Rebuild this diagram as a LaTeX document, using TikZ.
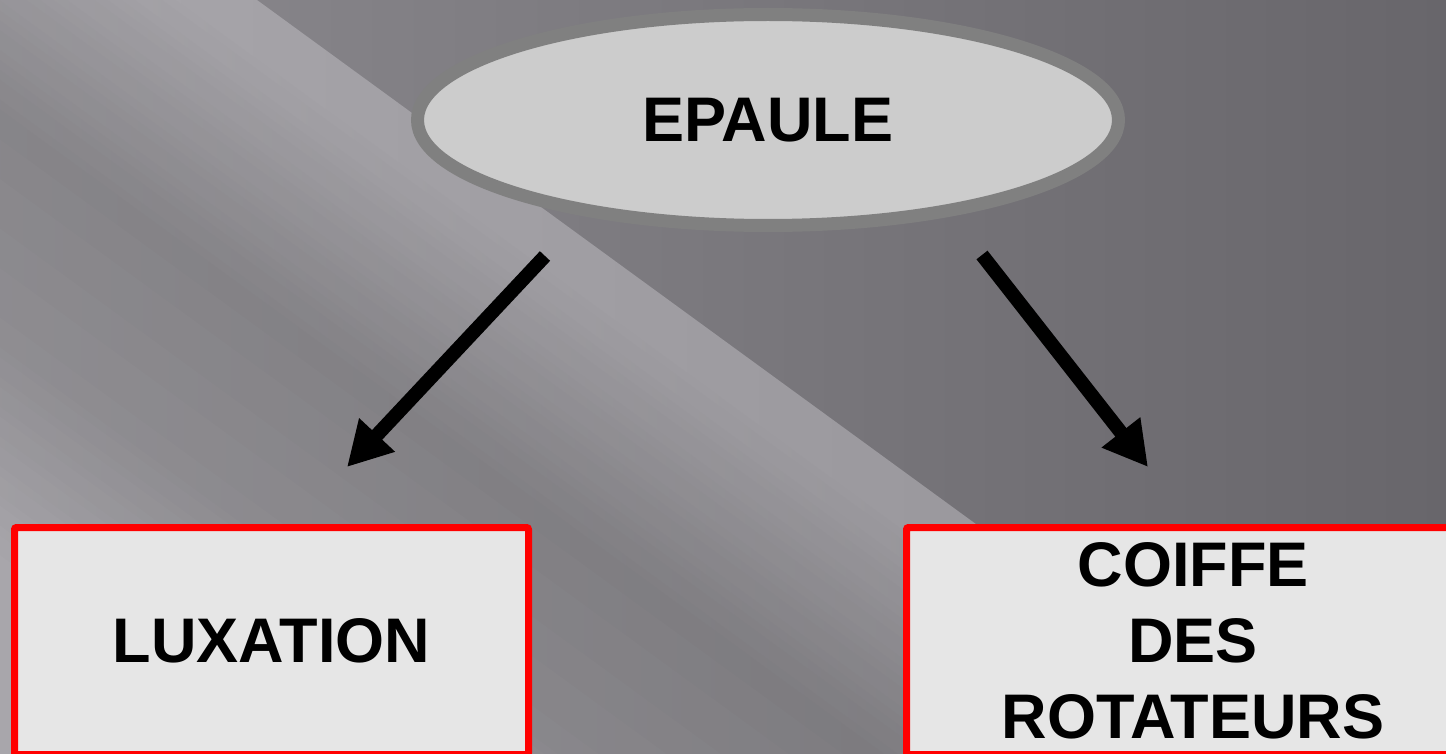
\documentclass[tikz,border=0pt]{standalone}
\usepackage{fontspec}
\setmainfont{Liberation Sans}
\usetikzlibrary{arrows.meta,shapes.geometric}
% region above/right of the diagonal edge
\definecolor{aA}{HTML}{979599}
\definecolor{aB}{HTML}{8F8D92}
\definecolor{aC}{HTML}{7A787D}
\definecolor{aD}{HTML}{68666B}
\definecolor{aE}{HTML}{5C5A5F}
% region below/left of the diagonal edge
\definecolor{bA}{HTML}{B2B0B5}
\definecolor{bB}{HTML}{9E9CA1}
\definecolor{bC}{HTML}{8A888D}
\definecolor{ellfill}{HTML}{CCCCCC}
\definecolor{elldraw}{HTML}{808080}
\definecolor{boxfill}{HTML}{E6E6E6}
\definecolor{boxred}{HTML}{FF0000}
\pgfdeclarehorizontalshading{shA}{100bp}{color(0bp)=(aA); color(20bp)=(aB); color(50bp)=(aC); color(75bp)=(aD); color(100bp)=(aE)}
\tikzset{
  bigtext/.style={font=\fontsize{63}{76}\selectfont\bfseries, text=black},
  redbox/.style={rectangle, draw=boxred, line width=7pt, fill=boxfill, rounded corners=2pt, inner sep=0pt, bigtext, align=center},
  topell/.style={ellipse, draw=elldraw, line width=13pt, fill=ellfill, inner sep=0pt, bigtext},
  bigarrow/.style={line width=14pt, -{Triangle[length=44pt,width=46pt]}, black}
}
\begin{document}
\begin{tikzpicture}[x=1pt,y=-1pt]
\useasboundingbox (0,0) rectangle (1446,754);
\clip (0,0) rectangle (1446,754);
% background, upper-right part
\shade[shading=shA] (0,0) rectangle (1446,754);
% background, lower-left part in diagonal strips
\foreach \t in {0,8,...,784}{
  \pgfmathsetmacro{\dk}{\t<40 ? 0 : (\t<240 ? 0.2*(\t-40)/200 : (\t<420 ? 0.2-0.05*(\t-240)/180 : (\t<600 ? 0.15*(600-\t)/180 : 0)))}
  \pgfmathtruncatemacro{\pc}{round(100-100*\dk)}
  \colorlet{sbA}{bA!\pc!black}
  \colorlet{sbB}{bB!\pc!black}
  \colorlet{sbC}{bC!\pc!black}
  \pgfdeclarehorizontalshading{shB\t}{100bp}{color(0bp)=(sbA); color(50bp)=(sbB); color(100bp)=(sbC)}
  \begin{scope}
    \clip (-955,-883.5) ++({-0.589*\t},{0.808*\t}) -- ++(2424,1767) -- ++({-0.589*9},{0.808*9}) -- ++(-2424,-1767) -- cycle;
    \shade[shading=shB\t] (0,0) rectangle (1446,754);
  \end{scope}
}
% nodes
\node[topell, minimum width=701pt, minimum height=211pt] (epaule) at (768,120) {EPAULE};
\node[redbox, minimum width=514pt, minimum height=227pt] (lux) at (271.5,641) {LUXATION};
\node[redbox, minimum width=573pt, minimum height=227pt] (coiffe) at (1193,641) {COIFFE\\DES\\ROTATEURS};
% arrows
\coordinate (l1) at (545,256);
\coordinate (l2) at (347,467);
\coordinate (r1) at (982,255);
\coordinate (r2) at (1148,467);
\draw[bigarrow] (l1) -- (l2);
\draw[bigarrow] (r1) -- (r2);
\end{tikzpicture}
\end{document}
